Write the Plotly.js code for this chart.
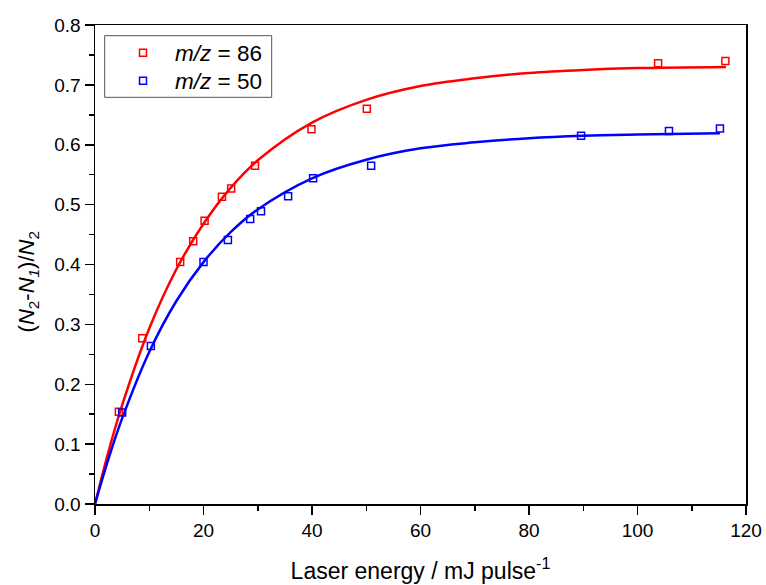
<!DOCTYPE html>
<html>
<head>
<meta charset="utf-8">
<script src="https://cdn.plot.ly/plotly-3.0.1.min.js"></script>
<style>html,body{margin:0;padding:0;background:#fff;}#chart{width:766px;height:585px;}</style>
</head>
<body>
<div id="chart"></div>
<script>
// Measured points, m/z = 86
const x86 = [4.4, 8.7, 15.7, 18.1, 20.2, 23.4, 25.1, 29.5, 39.9, 50.1, 103.8, 116.2];
const y86 = [0.154, 0.277, 0.404, 0.439, 0.473, 0.513, 0.527, 0.565, 0.626, 0.660, 0.736, 0.740];
// Measured points, m/z = 50
const x50 = [5.0, 10.3, 20.0, 24.5, 28.6, 30.6, 35.6, 40.2, 50.9, 89.6, 105.8, 115.2];
const y50 = [0.153, 0.264, 0.404, 0.441, 0.476, 0.489, 0.514, 0.544, 0.565, 0.615, 0.623, 0.627];
// Fit curves
const fitX86 = [0, 2.5, 5, 10, 15, 20, 25, 30, 40, 50, 60, 70, 80, 90, 100, 116.3];
const fitY86 = [0, 0.088, 0.165, 0.293, 0.392, 0.468, 0.528, 0.574, 0.637, 0.675, 0.698, 0.711, 0.720, 0.725, 0.728, 0.730];
const fitX50 = [0, 2.5, 5, 10, 15, 20, 25, 30, 40, 50, 60, 70, 80, 90, 100, 115.2];
const fitY50 = [0, 0.076, 0.143, 0.254, 0.339, 0.404, 0.454, 0.492, 0.544, 0.575, 0.594, 0.604, 0.611, 0.615, 0.617, 0.619];
const names = ['<i>m/z</i> = 86', '<i>m/z</i> = 50'];
const xTicks = [0, 20, 40, 60, 80, 100, 120];
const yTicks = [0.0, 0.1, 0.2, 0.3, 0.4, 0.5, 0.6, 0.7, 0.8];

const RED = '#ff0000', BLUE = '#0000ff';
const FONT = 'Liberation Sans, Arial, sans-serif';

const traces = [
  {x: fitX86, y: fitY86, mode: 'lines', line: {color: RED, width: 2.5, shape: 'spline', smoothing: 1}, showlegend: false, hoverinfo: 'skip'},
  {x: fitX50, y: fitY50, mode: 'lines', line: {color: BLUE, width: 2.5, shape: 'spline', smoothing: 1}, showlegend: false, hoverinfo: 'skip'},
  {x: x86, y: y86, mode: 'markers', name: names[0], legend: 'legend', marker: {symbol: 'square-open', size: 7, color: RED, line: {width: 1.5, color: RED}}},
  {x: x50, y: y50, mode: 'markers', name: names[1], legend: 'legend2', marker: {symbol: 'square-open', size: 7, color: BLUE, line: {width: 1.5, color: BLUE}}}
];

const axisCommon = {
  showgrid: false, zeroline: false, showline: true, linecolor: '#000', linewidth: 1.5,
  mirror: true, ticks: 'outside', ticklen: 9, tickwidth: 1.5, tickcolor: '#000',
  tickfont: {family: FONT, size: 19, color: '#000'}
};

const legendCommon = {
  xanchor: 'left', yanchor: 'middle', borderwidth: 0, bgcolor: 'rgba(0,0,0,0)',
  font: {family: FONT, size: 22.5, color: '#000'}, itemwidth: 54
};

const layout = {
  width: 766, height: 585,
  margin: {l: 95, r: 20, t: 25, b: 81},
  paper_bgcolor: '#fff', plot_bgcolor: '#fff',
  font: {family: FONT, color: '#000'},
  xaxis: Object.assign({}, axisCommon, {
    range: [0, 120], tickvals: xTicks, ticktext: xTicks.map(String),
    minor: {dtick: 10, tick0: 0, ticks: 'outside', ticklen: 5, tickwidth: 1.5, tickcolor: '#000'},
    title: {text: 'Laser energy / mJ pulse<sup>-1</sup>', font: {family: FONT, size: 23, color: '#000'}, standoff: 22}
  }),
  yaxis: Object.assign({}, axisCommon, {
    range: [0, 0.8], tickvals: yTicks, ticktext: yTicks.map(v => v.toFixed(1)),
    minor: {dtick: 0.05, tick0: 0, ticks: 'outside', ticklen: 5, tickwidth: 1.5, tickcolor: '#000'}
  }),
  annotations: [{
    text: '(<i>N</i><sub>2</sub>-<i>N</i><sub><i>1</i></sub>)/<i>N</i><sub>2</sub>',
    xref: 'paper', yref: 'paper', x: -0.103, y: 0.4645, xanchor: 'center', yanchor: 'middle',
    textangle: -90, showarrow: false, font: {family: FONT, size: 22, color: '#000'}
  }],
  shapes: [{
    type: 'rect', xref: 'paper', yref: 'paper', x0: 0.0149, x1: 0.2714, y0: 0.849, y1: 0.9777,
    line: {color: '#555', width: 1}, fillcolor: 'rgba(0,0,0,0)', layer: 'above'
  }],
  legend: Object.assign({}, legendCommon, {x: 0.0246, y: 0.9415}),
  legend2: Object.assign({}, legendCommon, {x: 0.0246, y: 0.883}),
  showlegend: true
};

Plotly.newPlot('chart', traces, layout, {displayModeBar: false, staticPlot: true});
</script>
</body>
</html>
